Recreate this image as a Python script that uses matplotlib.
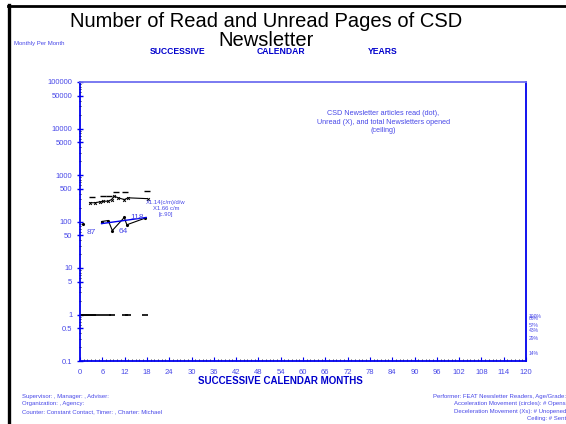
import matplotlib
matplotlib.use("Agg")
import matplotlib.pyplot as plt
from matplotlib.lines import Line2D
from matplotlib.ticker import MultipleLocator, LogLocator, NullFormatter

plt.rcParams["font.family"] = ["Liberation Sans", "DejaVu Sans"]

# data (months, counts per month)
ceiling_months = [3.2, 6.2, 7.9, 9.7, 12.1, 17.9]
ceiling_vals = [340, 360, 360, 435, 435, 450]

unread_months = [2.7, 4.0, 5.4, 6.3, 7.6, 8.5, 9.2, 10.3, 11.9, 13.0, 18.2]
unread_vals = [253, 253, 265, 273, 273, 297, 350, 323, 297, 323, 310]

read_months = [0.9, 5.8, 7.6, 8.7, 11.9, 12.6, 17.5]
read_vals = [87, 100, 105, 64, 122, 85, 118]

floor_months = [0.3, 1.0, 1.8, 2.6, 3.4, 4.2, 5.8, 7.6, 8.5, 12.0, 13.0, 17.5]
floor_vals = [1] * len(floor_months)

trend_months = [5.8, 17.8]
trend_vals = [90, 122]

# value labels: (month, level, text)
point_labels = [(1.9, 58, "87"), (10.5, 61, "64"), (13.6, 122, "118")]

ytick_vals = [0.1, 0.5, 1, 5, 10, 50, 100, 500, 1000, 5000, 10000, 50000, 100000]
ytick_labels = ["0.1", "0.5", "1", "5", "10", "50", "100", "500", "1000",
                "5000", "10000", "50000", "100000"]
xtick_vals = list(range(0, 121, 6))

pct_labels = ["100%", "86%", "57%", "43%", "29%", "14%"]
pct_pos = [0.161, 0.152, 0.127, 0.108, 0.081, 0.026]

blue = "#0000ee"
lblue = "#4848e8"

fig = plt.figure(figsize=(5.66, 4.24), dpi=100)
ax = fig.add_axes([80 / 566, 63 / 424, 446 / 566, 279 / 424])

ax.set_yscale("log")
ax.set_ylim(0.1, 100000)
ax.set_xlim(0, 120)

ax.plot(ceiling_months, ceiling_vals, ls="none", marker="_", ms=5, mew=1.0, color="black")
ax.plot(unread_months, unread_vals, color="black", lw=0.8, marker="x", ms=2, mew=0.7)
ax.plot(read_months[1:], read_vals[1:], color="black", lw=0.8, marker=".", ms=2.5)
ax.plot(read_months[:1], read_vals[:1], ls="none", color="black", marker=".", ms=2.5)
ax.plot(floor_months, floor_vals, ls="none", marker="_", ms=4, mew=1.2, color="black")
ax.plot(trend_months, trend_vals, color=blue, lw=1)

for mx, my, s in point_labels:
    ax.text(mx, my, s, color=lblue, fontsize=6, ha="left", va="center")

ax.text(23.1, 10 ** ((315 - 209) / 46.5), "X1.14(c/m)/d/w\nX1.66 c/m\n[c.90]",
        color=lblue, fontsize=4.2, ha="center", va="center", linespacing=1.35)

ax.text(0.68, 0.855, "CSD Newsletter articles read (dot),\nUnread (X), and total Newsletters opened\n(ceiling)",
        transform=ax.transAxes, ha="center", va="center", color=lblue, fontsize=5.2,
        linespacing=1.3)

ax.set_yticks(ytick_vals)
ax.set_yticklabels(ytick_labels)
ax.yaxis.set_minor_locator(LogLocator(base=10, subs=range(2, 10)))
ax.yaxis.set_minor_formatter(NullFormatter())
ax.set_xticks(xtick_vals)
ax.xaxis.set_minor_locator(MultipleLocator(1))

ax.tick_params(axis="both", labelsize=5.5, labelcolor=lblue, color=blue)
ax.tick_params(axis="y", which="major", direction="inout", length=4, width=1)
ax.tick_params(axis="y", which="minor", direction="inout", length=2, width=0.6)
ax.tick_params(axis="x", which="major", direction="in", length=3, width=0.8, pad=6)
ax.tick_params(axis="x", which="minor", direction="in", length=1.5, width=0.5)

for side in ["left", "bottom", "right"]:
    ax.spines[side].set_color(blue)
    ax.spines[side].set_linewidth(1.3)
ax.spines["top"].set_color("#7070f0")
ax.spines["top"].set_linewidth(1.3)

for s, p in zip(pct_labels, pct_pos):
    ax.text(1.007, p, s, transform=ax.transAxes, fontsize=3.6, color=lblue,
            ha="left", va="center")

# title and header texts
fig.text(266 / 566, 1 - 31 / 424, "Number of Read and Unread Pages of CSD\nNewsletter",
         ha="center", va="center", fontsize=14.5, color="black", linespacing=1.05)
fig.text(14 / 566, 1 - 43 / 424, "Monthly Per Month", fontsize=4.3, color=lblue,
         ha="left", va="center")
for x, s in [(150, "SUCCESSIVE"), (257, "CALENDAR"), (368, "YEARS")]:
    fig.text(x / 566, 1 - 52 / 424, s, fontsize=6.2, color="#0000cc",
             fontweight="bold", ha="left", va="center")

fig.text(280 / 566, 1 - 381 / 424, "SUCCESSIVE CALENDAR MONTHS", fontsize=7,
         color="#0000cc", fontweight="bold", ha="center", va="center")

fig.text(22 / 566, 1 - 394 / 424,
         "Supervisor: , Manager: , Adviser:\nOrganization: , Agency:\nCounter: Constant Contact, Timer: , Charter: Michael",
         fontsize=4.3, color=lblue, ha="left", va="top", linespacing=1.6)
fig.text(566 / 566, 1 - 394 / 424,
         "Performer: FEAT Newsletter Readers, Age/Grade:\nAcceleration Movement (circles): # Opens\nDeceleration Movement (Xs): # Unopened\nCeiling: # Sent",
         fontsize=4.3, color=lblue, ha="right", va="top", linespacing=1.6)

# slide frame
fig.add_artist(Line2D([9 / 566, 9 / 566], [0, 1 - 5 / 424], transform=fig.transFigure,
                      color="black", lw=2.4))
fig.add_artist(Line2D([8 / 566, 1], [1 - 6 / 424, 1 - 6 / 424], transform=fig.transFigure,
                      color="black", lw=2.0))

fig.savefig("out.png", dpi=100)
